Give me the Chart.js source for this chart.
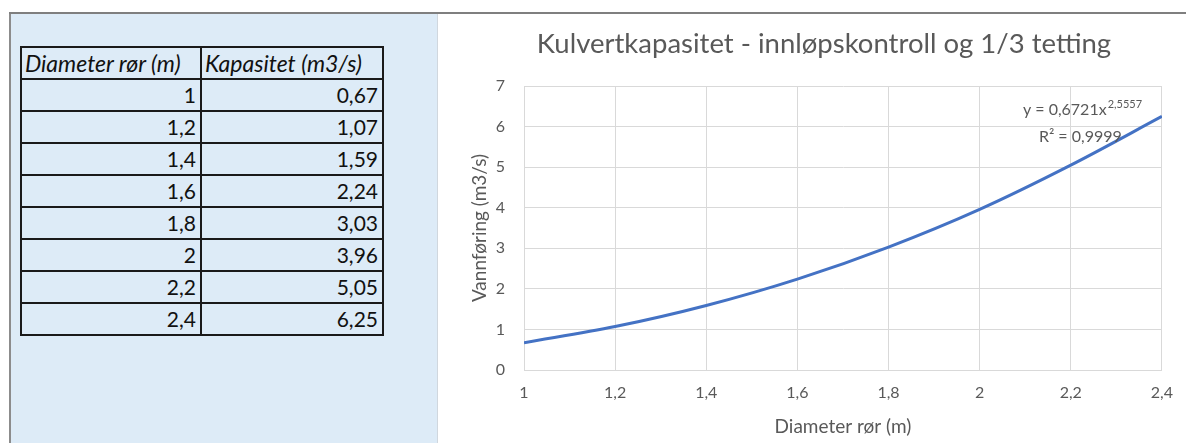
<!DOCTYPE html>
<html>
<head>
<meta charset="utf-8">
<script src="https://cdn.jsdelivr.net/npm/chart.js@4.4.1/dist/chart.umd.min.js"></script>
<style>
  html, body { margin: 0; padding: 0; background: #ffffff; }
  body { width: 1186px; height: 443px; position: relative; overflow: hidden; font-family: Lato, "Open Sans", sans-serif; }
  #topline { position: absolute; left: 9px; top: 12px; width: 1177px; height: 2px; background: #7f7f7f; }
  #panel { position: absolute; left: 9px; top: 14px; width: 429px; height: 429px; background: #ddebf7; border-left: 2px solid #8c8c8c; border-right: 1px solid #d0d7de; box-sizing: border-box; }
  #tbl { position: absolute; left: 20px; top: 46px; border-collapse: collapse; table-layout: fixed; width: 362px; }
  #tbl td { border: 2px solid #1a1a1a; height: 30px; padding: 0 4px 0 0; font-size: 21px; color: #111; line-height: 30px; box-sizing: content-box; text-align: right; white-space: nowrap; overflow: hidden; }
  #tbl tr.head td { font-style: italic; font-size: 23px; text-align: left; padding: 0 0 0 3px; }
  #wrap { position: absolute; left: 440px; top: 14px; width: 746px; height: 429px; }
</style>
</head>
<body>
<div id="topline"></div>
<div id="panel"></div>
<table id="tbl"><colgroup><col style="width:180px"><col style="width:182px"></colgroup><tbody id="tb"></tbody></table>
<div id="wrap"><canvas id="c" width="746" height="429"></canvas></div>
<script>
// Pipe diameter (m) and inlet-controlled capacity (m3/s)
const diameters = [1, 1.2, 1.4, 1.6, 1.8, 2, 2.2, 2.4];
const capacity = [0.67, 1.07, 1.59, 2.24, 3.03, 3.96, 5.05, 6.25];
const headers = ['Diameter rør (m)', 'Kapasitet (m3/s)'];
const chartTitle = 'Kulvertkapasitet - innløpskontroll og 1/3 tetting';
const xTitle = 'Diameter rør (m)';
const yTitle = 'Vannføring (m3/s)';
const trendEq = ['y = 0,6721x', '2,5557'];
const trendR2 = 'R² = 0,9999';

const fmt = v => String(v).replace('.', ',');

// Data table
const tb = document.getElementById('tb');
let html = '<tr class="head"><td>' + headers[0] + '</td><td>' + headers[1] + '</td></tr>';
diameters.forEach((d, i) => {
  html += '<tr><td>' + fmt(d) + '</td><td>' + fmt(capacity[i].toFixed(2)) + '</td></tr>';
});
tb.innerHTML = html;

const grey = '#595959';
const font = 'Lato';

// Chart heading, centred over the plot region
const heading = {
  id: 'heading',
  afterDraw(chart) {
    const ctx = chart.ctx;
    ctx.save();
    ctx.fillStyle = grey;
    ctx.font = '27.5px ' + font;
    ctx.textAlign = 'center';
    ctx.textBaseline = 'middle';
    ctx.fillText(chartTitle, 384, 30);
    ctx.restore();
  }
};

// Trendline equation text placed in the upper right of the plot
const trendLabel = {
  id: 'trendLabel',
  afterDatasetsDraw(chart) {
    const ctx = chart.ctx;
    const xs = chart.scales.x, ys = chart.scales.y;
    ctx.save();
    ctx.fillStyle = grey;
    ctx.textBaseline = 'middle';
    ctx.textAlign = 'left';
    ctx.font = '16px ' + font;
    const x0 = xs.getPixelForValue(2.095);
    const y0 = ys.getPixelForValue(6.41);
    ctx.fillText(trendEq[0], x0, y0);
    const w = ctx.measureText(trendEq[0]).width;
    ctx.font = '11px ' + font;
    ctx.fillText(trendEq[1], x0 + w + 1, y0 - 5);
    ctx.font = '16px ' + font;
    ctx.fillText(trendR2, xs.getPixelForValue(2.13), ys.getPixelForValue(5.74));
    ctx.restore();
  }
};

new Chart(document.getElementById('c'), {
  type: 'scatter',
  data: {
    datasets: [{
      data: diameters.map((d, i) => ({ x: d, y: capacity[i] })),
      showLine: true,
      borderColor: '#4472c4',
      borderWidth: 3,
      pointRadius: 0,
      cubicInterpolationMode: 'monotone'
    }]
  },
  options: {
    responsive: false,
    animation: false,
    layout: { autoPadding: false, padding: { left: 0, right: 17, top: 72, bottom: 0 } },
    plugins: {
      legend: { display: false },
      tooltip: { enabled: false },
      title: { display: false }
    },
    scales: {
      x: {
        type: 'linear',
        min: 1, max: 2.4,
        afterFit(s) { s.height = 73; },
        ticks: {
          stepSize: 0.2, color: grey, padding: 13,
          font: { family: font, size: 16 },
          callback: v => fmt(Math.round(v * 10) / 10)
        },
        grid: { color: '#d9d9d9', drawTicks: false },
        border: { color: '#d9d9d9' },
        title: { display: true, text: xTitle, color: grey, font: { family: font, size: 19 }, padding: { top: 0, bottom: 5 } }
      },
      y: {
        min: 0, max: 7,
        afterFit(s) { s.width = 84; },
        ticks: {
          stepSize: 1, color: grey, padding: 19,
          font: { family: font, size: 16 }
        },
        grid: { color: '#d9d9d9', drawTicks: false },
        border: { color: '#d9d9d9' },
        title: { display: true, text: yTitle, color: grey, font: { family: font, size: 19 }, padding: { top: 28, bottom: 0 } }
      }
    }
  },
  plugins: [trendLabel, heading]
});
</script>
</body>
</html>
